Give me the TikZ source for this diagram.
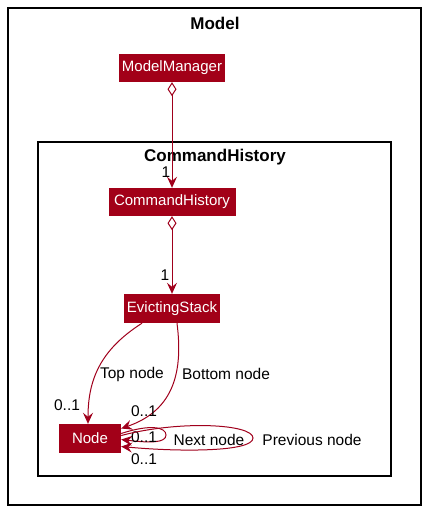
\documentclass[tikz,border=0pt]{standalone}
\usepackage{fontspec}
\setmainfont{Liberation Sans}
\usetikzlibrary{arrows.meta}
\definecolor{umlred}{HTML}{A20018}
\definecolor{umlline}{HTML}{A0001C}
\begin{document}
\begin{tikzpicture}[x=1pt, y=-1pt]
        	\tikzstyle{box} = [fill=umlred, text=white, inner sep=0pt, minimum height=28pt, font=\fontsize{15}{17}\selectfont];
        	\tikzstyle{frame} = [draw=black, line width=1.3pt];
        	\tikzstyle{title} = [font=\fontsize{17}{20}\selectfont\bfseries];
        	\tikzstyle{lbl} = [font=\fontsize{15.5}{18}\selectfont, inner sep=0pt];
        	\tikzstyle{assoc} = [draw=umlline, line width=1pt, -{Stealth[length=11pt, width=10pt, inset=4pt]}];
        	\tikzstyle{aggr} = [draw=umlline, line width=1pt, {Diamond[open, length=14pt, width=9pt, fill=white]}-{Stealth[length=11pt, width=10pt, inset=4pt]}];
        	\useasboundingbox (0,0) rectangle (427,512);

            % packages
        	\draw[frame] (8,8) rectangle (421,505);
        	\node[title] (modelT) at (215,23) {Model};
        	\draw[frame] (38,142) rectangle (391,476);
        	\node[title] (histT) at (215,157) {CommandHistory};

            % classes
        	\node[box, minimum width=106pt] (MM) at (172,68) {ModelManager};
        	\node[box, minimum width=127pt] (CH) at (172,202) {CommandHistory};
        	\node[box, minimum width=96pt, minimum height=29pt] (ES) at (172,308.5) {EvictingStack};
        	\node[box, minimum width=62pt, minimum height=29pt] (N) at (90,438.5) {Node};

            \draw[aggr] (MM) -- (CH);
            \node[lbl] (m1) at (166,172) {1};
            \draw[aggr] (CH) -- (ES);
            \node[lbl] (m2) at (165,275) {1};

            \draw[assoc] ([xshift=-30pt]ES.south) .. controls (100,350) and (88,380) .. ([xshift=-2pt]N.north);
            \node[lbl] (top) at (132,374) {Top node};
            \node[lbl] (topm) at (67,405) {0..1};
            \draw[assoc] ([xshift=5pt]ES.south) .. controls (183,370) and (175,410) .. ([yshift=10pt]N.east);
            \node[lbl] (bot) at (226,374) {Bottom node};
            \node[lbl] (botm) at (144,411) {0..1};

            \draw[assoc] ([yshift=5pt]N.east) .. controls (150,424) and (166,427) .. (166,435) .. controls (166,443) and (150,443) .. ([yshift=-1pt]N.east);
            \node[lbl] (nxt) at (209,440) {Next node};
            \node[lbl] (nxtm) at (144,437) {0..1};
            \draw[assoc] ([yshift=3pt]N.east) .. controls (180,420) and (253,424) .. (253,438) .. controls (253,452) and (180,452) .. ([yshift=-8pt]N.east);
            \node[lbl] (prv) at (312,440) {Previous node};
            \node[lbl] (prvm) at (144,459) {0..1};
    	\end{tikzpicture}
\end{document}
